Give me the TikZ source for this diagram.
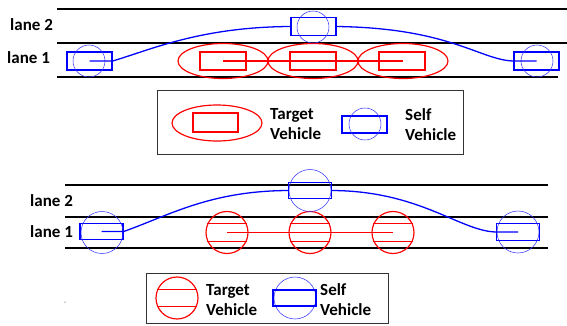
\documentclass[tikz,border=0pt]{standalone}
\usepackage{fontspec}
\setmainfont{Carlito}
\usetikzlibrary{shapes.geometric}

\begin{document}
\begin{tikzpicture}[
  x=0.03cm, y=-0.03cm,
  lane/.style={line width=1.3pt, draw=black},
  lanelabel/.style={font=\fontsize{14.5}{17}\selectfont\bfseries, inner sep=0pt, anchor=west},
  legendtext/.style={font=\fontsize{14.5}{17}\selectfont\bfseries, inner sep=0pt, anchor=west, align=left},
  selfbox/.style={draw=blue, line width=1.1pt, inner sep=0pt, minimum width=1.35cm, minimum height=0.54cm},
  selfring/.style={circle, draw=blue!80, line width=0.45pt, inner sep=0pt, minimum size=0.96cm},
  tgtoval/.style={ellipse, draw=red, line width=1pt, inner sep=0pt, minimum width=2.7cm, minimum height=1.05cm},
  tgtbox/.style={draw=red, line width=1pt, inner sep=0pt, minimum width=1.38cm, minimum height=0.54cm},
  selfbox2/.style={draw=blue, line width=1.1pt, inner sep=0pt, minimum width=1.29cm, minimum height=0.5cm},
  bigring/.style={circle, draw=blue!80, line width=0.45pt, inner sep=0pt, minimum size=1.26cm},
  tgtring/.style={circle, draw=red, line width=1pt, inner sep=0pt, minimum size=1.26cm},
  route/.style={draw=blue, line width=1.1pt},
  link/.style={draw=red, line width=1pt},
  frame/.style={draw=black!80, line width=0.6pt}
]
  \useasboundingbox (0,0) rectangle (567,325);

  % ---------- upper scheme: elliptic target vehicles ----------
  \draw[lane] (57,9) -- (567,9);
  \draw[lane] (57,43) -- (567,43);
  \draw[lane] (57,77) -- (558,77);
  \node[lanelabel] (l2a) at (10,25) {lane 2};
  \node[lanelabel] (l1a) at (7,58) {lane 1};

  % target vehicles
  \node[tgtoval] (t1) at (223,61) {};
  \node[tgtoval] (t2) at (313,61) {};
  \node[tgtoval] (t3) at (403,61) {};
  \node[tgtbox] (t1r) at (223,61) {};
  \node[tgtbox] (t2r) at (313,61) {};
  \node[tgtbox] (t3r) at (402,61) {};
  \draw[link] (t1.center) -- (t3.center);

  % self vehicle on its way
  \node[selfbox] (s1) at (89.5,61) {};
  \node[selfring] (s1c) at (89,61) {};
  \node[selfbox] (s2) at (313.5,26.5) {};
  \node[selfring] (s2c) at (313,27) {};
  \node[selfbox] (s3) at (536.5,61) {};
  \node[selfring] (s3c) at (537,61) {};
  \draw[route] (s1.center) -- (s1.east) .. controls (150,50) and (200,27) .. (s2.west);
  \draw[route] (s2.east) .. controls (450,28) and (480,60) .. (s3.west) -- (s3.center);

  % legend
  \node[frame, minimum width=9.18cm, minimum height=1.92cm] (key1) at (310,122) {};
  \node[tgtoval, minimum height=1.08cm] (k1t) at (217,123) {};
  \node[tgtbox, minimum width=1.35cm, minimum height=0.57cm] (k1tr) at (215.5,122.5) {};
  \node[legendtext] (k1tt) at (270,124.5) {Target\\Vehicle};
  \node[selfbox, minimum height=0.51cm] (k1s) at (364.5,124.5) {};
  \node[selfring] (k1sc) at (365,124) {};
  \node[legendtext] (k1st) at (405,124.5) {Self\\Vehicle};

  % ---------- lower scheme: circular target vehicles ----------
  \draw[lane] (65,185) -- (548,185);
  \draw[lane] (65,217) -- (548,217);
  \draw[lane] (65,248) -- (548,248);
  \node[lanelabel] (l2b) at (30,201) {lane 2};
  \node[lanelabel] (l1b) at (30,232) {lane 1};

  % target vehicles
  \node[tgtring] (u1) at (227,232.5) {};
  \node[tgtring] (u2) at (310,232.5) {};
  \node[tgtring] (u3) at (393,232.5) {};
  \foreach \u in {u1,u2,u3}{
    \draw[link] (\u.156) -- (\u.24);
    \draw[link] (\u.204) -- (\u.336);
  }
  \draw[link] (u1.center) -- (u3.center);

  % self vehicle on its way
  \node[selfbox2] (v1) at (101.5,231.5) {};
  \node[bigring] (v1c) at (102,232.5) {};
  \node[selfbox2] (v2) at (310,190.5) {};
  \node[bigring] (v2c) at (310,190.5) {};
  \node[selfbox2] (v3) at (518,232) {};
  \node[bigring] (v3c) at (518,232) {};
  \draw[route] (v1.center) -- (v1.east) .. controls (170,215) and (210,191) .. (v2.west);
  \draw[route] (v2.east) .. controls (420,191) and (460,231) .. (v3.west) -- (v3.center);

  % legend
  \node[frame, minimum width=7.26cm, minimum height=1.5cm] (key2) at (267,298) {};
  \node[tgtring] (k2t) at (177,298) {};
  \draw[link] (k2t.156) -- (k2t.24);
  \draw[link] (k2t.204) -- (k2t.336);
  \node[legendtext] (k2tt) at (206,300) {Target\\Vehicle};
  \node[bigring] (k2sc) at (295,298) {};
  \node[selfbox2, minimum height=0.48cm] (k2s) at (294.5,298) {};
  \node[legendtext] (k2st) at (320,300) {Self\\Vehicle};
  \fill (65,302) circle (0.5);

\end{tikzpicture}
\end{document}
